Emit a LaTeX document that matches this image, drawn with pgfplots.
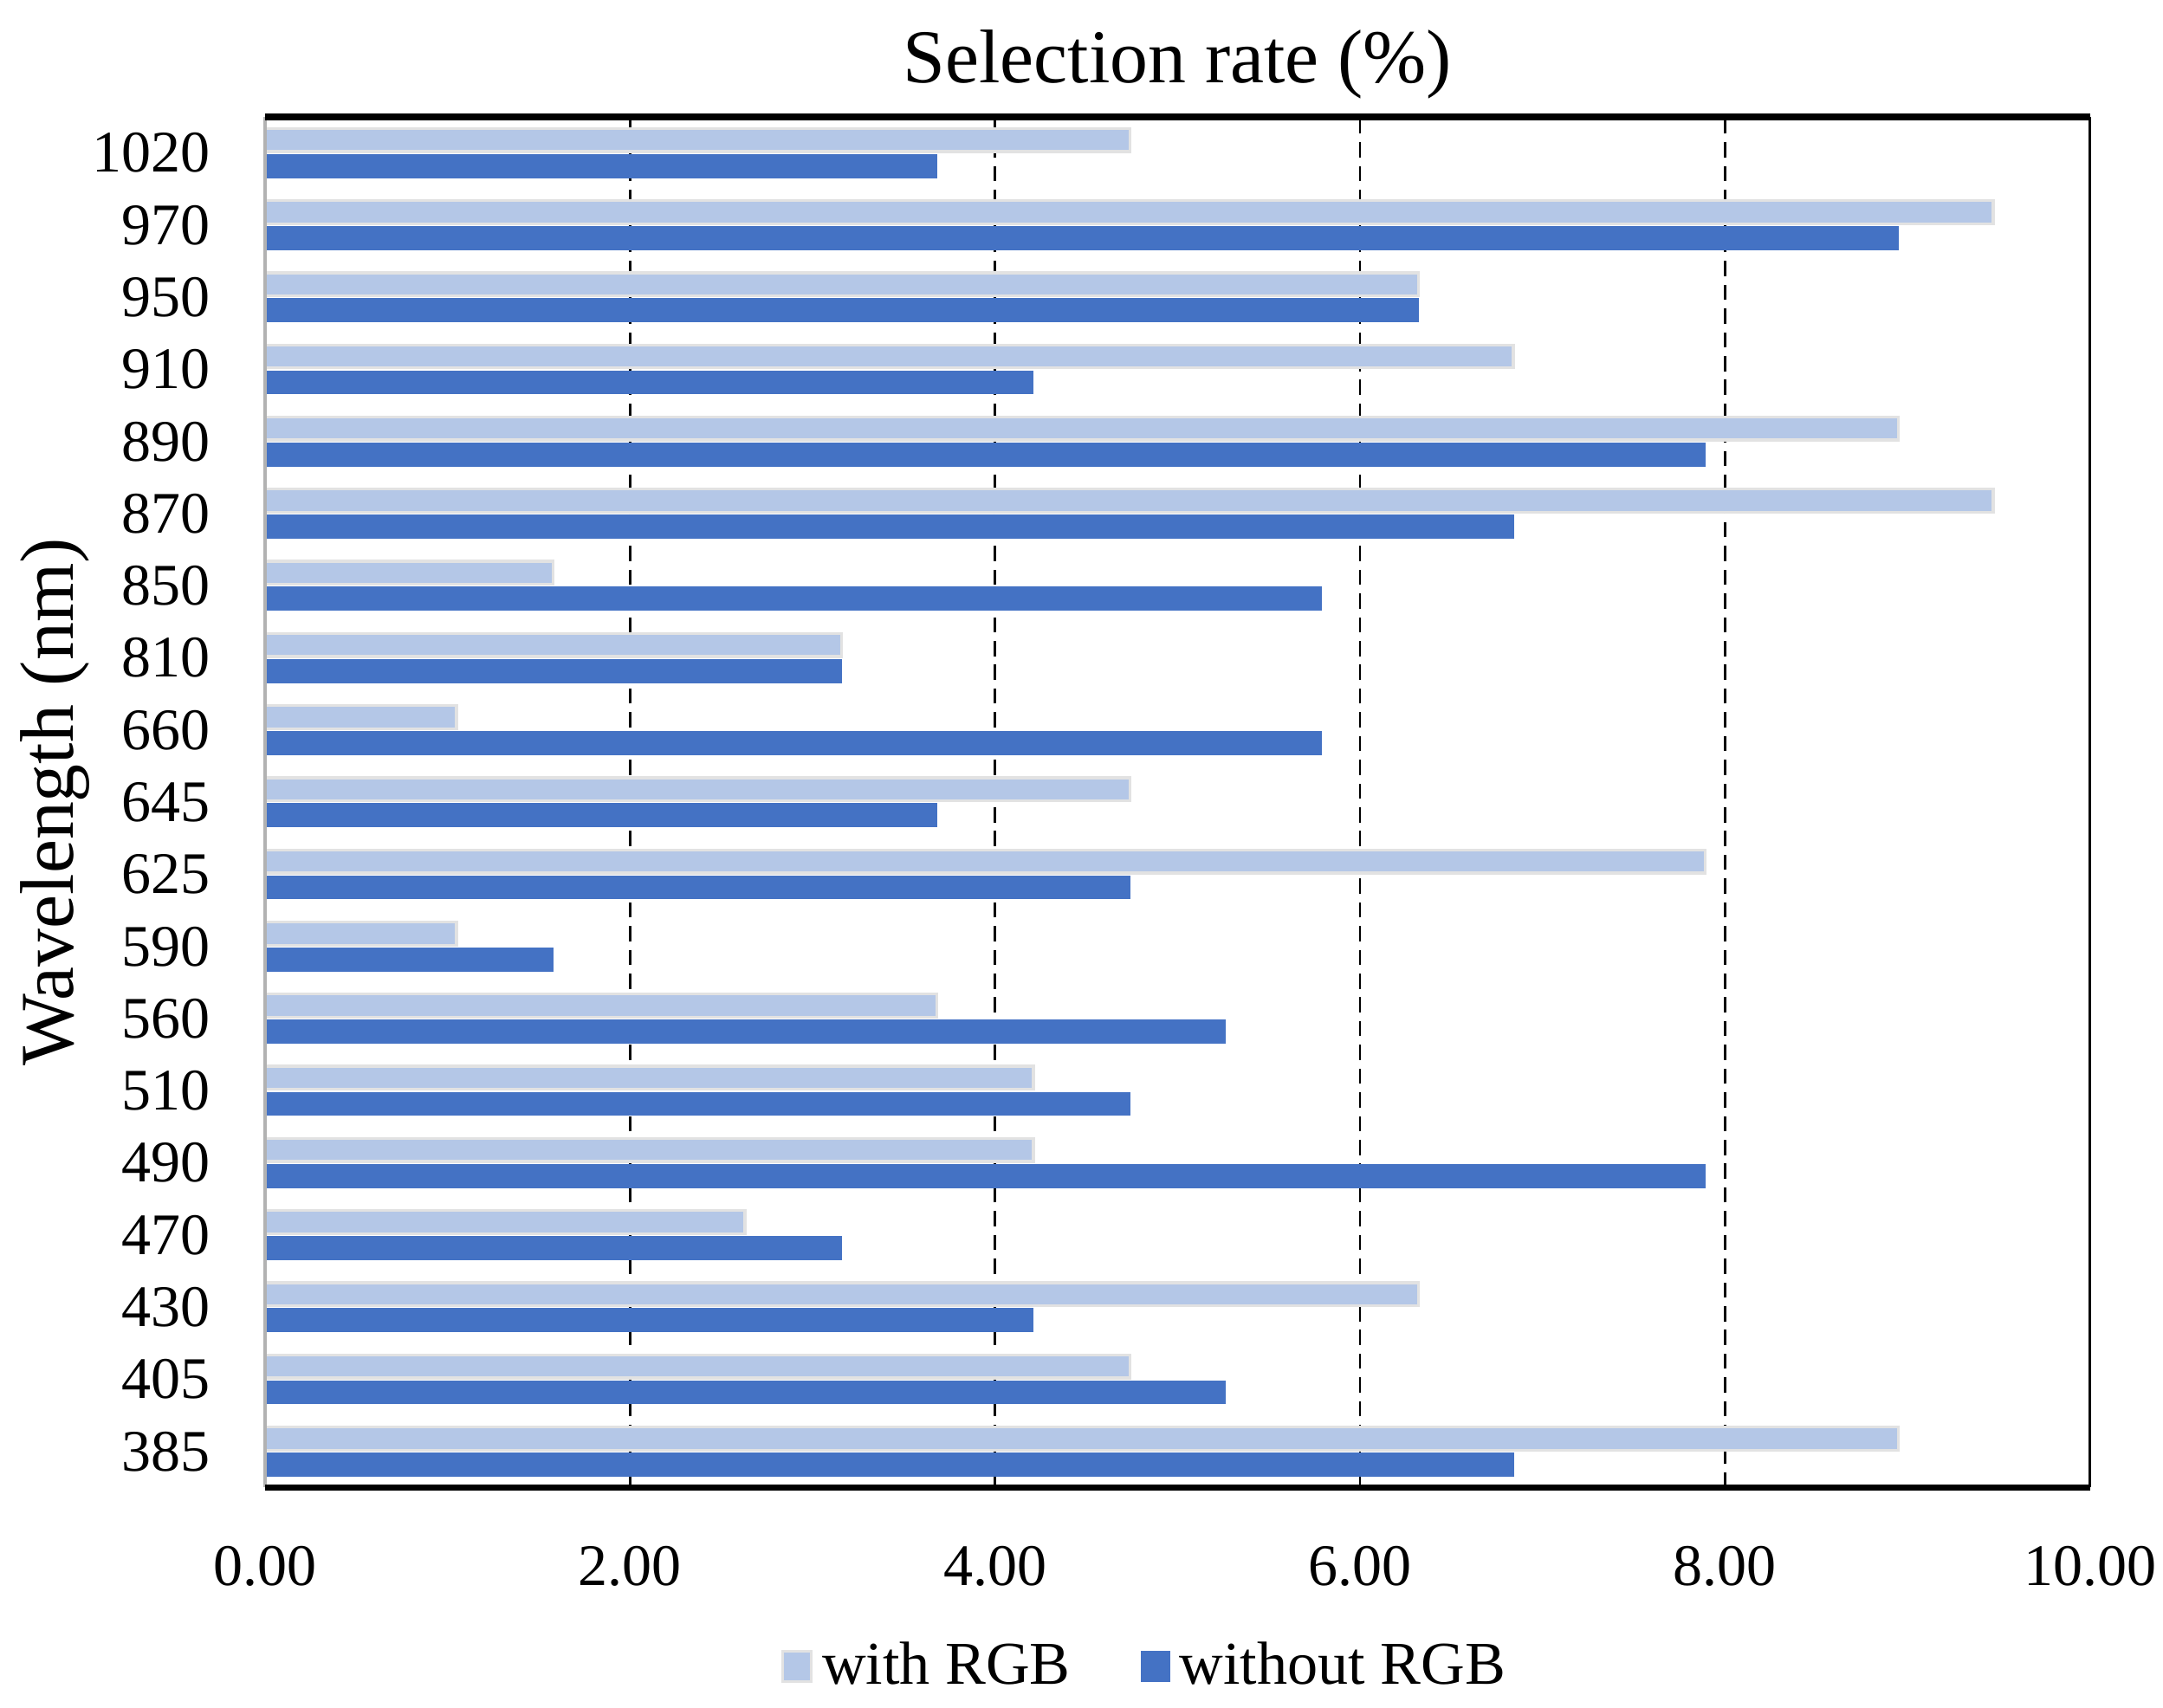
\documentclass[border=0pt]{standalone}
\usepackage{fontspec}
\setmainfont{Liberation Serif}
\usepackage{pgfplots}
\pgfplotsset{compat=1.18}
\definecolor{withrgb}{HTML}{B4C7E7}
\definecolor{withoutrgb}{HTML}{4472C4}
\definecolor{baredge}{HTML}{E2E2E2}

\begin{document}
\begin{tikzpicture}
\useasboundingbox (-1.96cm,-1.63cm) rectangle (14.04cm,11.005cm);
\begin{axis}[
    scale only axis,
    width=13.5cm, height=10.14cm,
    xbar,
    bar width=0.32,
    xmin=0, xmax=10,
    ymin=-0.5, ymax=18.5,
    xtick={0,2,...,10},
    ytick={0,...,18},
    yticklabels={385,405,430,470,490,510,560,590,625,645,660,810,850,870,890,910,950,970,1020},
    xticklabel style={/pgf/number format/fixed, /pgf/number format/fixed zerofill,
        /pgf/number format/precision=2, /pgf/number format/assume math mode=true,
        yshift=-0.31cm},
    yticklabel style={xshift=-0.13cm},
    tick label style={font=\fontsize{12.4}{14}\selectfont},
    tick style={draw=none},
    separate axis lines,
    axis line style={draw=none},
    xmajorgrids,
    major grid style={black, line width=0.5pt, dash pattern=on 3.2pt off 1.8pt},
    legend style={at={(0.484,-0.1305)}, anchor=center, draw=none,
        font=\fontsize{12.8}{15}\selectfont,
        legend columns=2,
        /tikz/every even column/.append style={column sep=0.45cm}},
    legend image code/.code={
        \draw[#1] (-0.04cm,-0.11cm) rectangle (0.17cm,0.11cm);
    },
    clip=false,
]
% with RGB (light)
\addplot[fill=withrgb, draw=baredge, line width=0.6pt, bar shift=0.18] coordinates {
    (8.95,0) (4.74,1) (6.32,2) (2.63,3) (4.21,4) (4.21,5) (3.68,6) (1.05,7)
    (7.89,8) (4.74,9) (1.05,10) (3.16,11) (1.58,12) (9.47,13) (8.95,14)
    (6.84,15) (6.32,16) (9.47,17) (4.74,18)
};
% without RGB (dark)
\addplot[fill=withoutrgb, draw=withoutrgb, line width=0.2pt, bar shift=-0.18] coordinates {
    (6.84,0) (5.26,1) (4.21,2) (3.16,3) (7.89,4) (4.74,5) (5.26,6) (1.58,7)
    (4.74,8) (3.68,9) (5.79,10) (3.16,11) (5.79,12) (6.84,13) (7.89,14)
    (4.21,15) (6.32,16) (8.95,17) (3.68,18)
};
\legend{with RGB, without RGB}

\draw[black!30, line width=0.6pt] (rel axis cs:0,0) -- (rel axis cs:0,1);
\draw[black, line width=0.6pt] (rel axis cs:1,0) -- (rel axis cs:1,1);
\draw[black, line width=1.3pt] (rel axis cs:0,1) -- (rel axis cs:1,1);
\draw[black, line width=1.4pt] (rel axis cs:0,0) -- (rel axis cs:1,0);

\node[anchor=base, font=\fontsize{16}{19}\selectfont]
    at ([yshift=0.256cm]rel axis cs:0.5,1) {Selection rate (\%)};
\node[rotate=90, anchor=center, font=\fontsize{16}{19}\selectfont]
    at ([xshift=-1.55cm]rel axis cs:0,0.5) {Wavelength (nm)};
\end{axis}
\end{tikzpicture}
\end{document}
